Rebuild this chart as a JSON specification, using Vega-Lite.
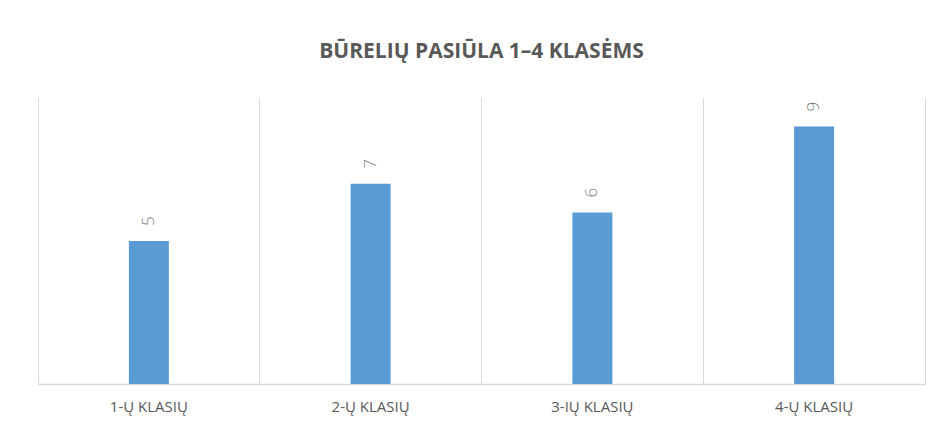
{
  "$schema": "https://vega.github.io/schema/vega-lite/v6.json",
  "autosize": {"type": "none"},
  "width": 887,
  "height": 286,
  "padding": {"left": 38, "top": 98, "right": 17, "bottom": 50},
  "background": "white",
  "title": {
    "text": "BŪRELIŲ PASIŪLA 1–4 KLASĖMS",
    "font": "Open Sans",
    "fontSize": 21,
    "fontWeight": "bold",
    "color": "#595959",
    "offset": 36,
    "anchor": "middle"
  },
  "data": {
    "values": [
      {"klase": "1-Ų KLASIŲ", "burelai": 5},
      {"klase": "2-Ų KLASIŲ", "burelai": 7},
      {"klase": "3-IŲ KLASIŲ", "burelai": 6},
      {"klase": "4-Ų KLASIŲ", "burelai": 9}
    ]
  },
  "encoding": {
    "x": {
      "field": "klase",
      "type": "nominal",
      "sort": null,
      "scale": {"paddingInner": 0, "paddingOuter": 0},
      "axis": {
        "title": null,
        "labelAngle": 0,
        "labelFont": "Open Sans",
        "labelFontSize": 15,
        "labelColor": "#595959",
        "labelPadding": 15,
        "ticks": false,
        "domainColor": "#d9d9d9",
        "domainWidth": 1.5,
        "grid": true,
        "gridColor": "#d9d9d9",
        "gridWidth": 1,
        "bandPosition": 0
      }
    },
    "y": {
      "field": "burelai",
      "type": "quantitative",
      "scale": {"domain": [0, 10]},
      "axis": {
        "orient": "right",
        "title": null,
        "labels": false,
        "ticks": false,
        "grid": false,
        "domain": true,
        "domainColor": "#d9d9d9",
        "domainWidth": 1
      }
    }
  },
  "layer": [
    {"mark": {"type": "bar", "size": 40, "color": "#5b9bd5"}},
    {
      "mark": {
        "type": "text",
        "angle": 270,
        "align": "left",
        "baseline": "middle",
        "dx": 15,
        "font": "Open Sans",
        "fontSize": 17,
        "fontWeight": 300,
        "color": "#7f7f7f"
      },
      "encoding": {"text": {"field": "burelai", "type": "quantitative"}}
    }
  ],
  "config": {"view": {"stroke": null}}
}
